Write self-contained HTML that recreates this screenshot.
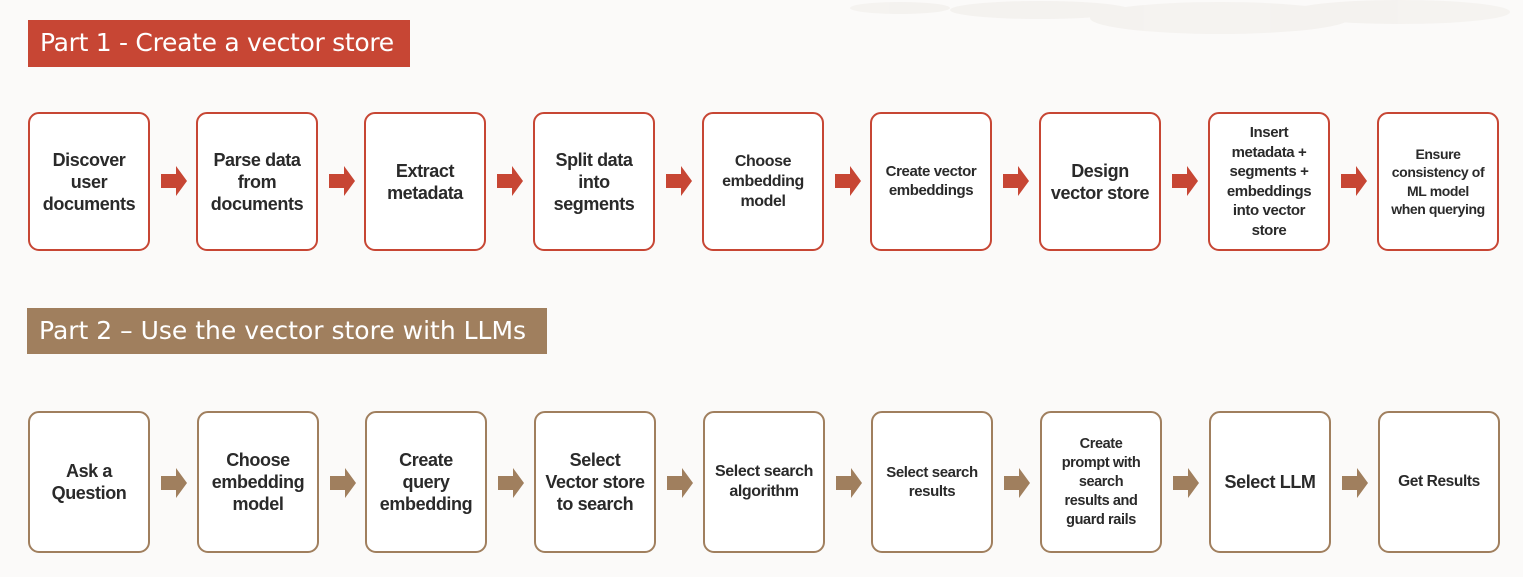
<!DOCTYPE html>
<html><head><meta charset="utf-8"><style>
html,body{margin:0;padding:0;}
body{width:1523px;height:577px;background:#fbfaf9;position:relative;overflow:hidden;font-family:"Liberation Sans",Arial,sans-serif;}
.t{position:absolute;color:#fff;font-family:"DejaVu Sans","Liberation Sans",sans-serif;font-size:25px;line-height:46px;padding-left:12px;box-sizing:border-box;letter-spacing:-0.3px}
.b{position:absolute;width:122px;box-sizing:border-box;border:2.5px solid;border-radius:11px;background:#fff;display:flex;align-items:center;justify-content:center;text-align:center;font-weight:bold;color:#2a2a2a;letter-spacing:-0.4px}
.r{border-color:#c74634;top:112px;height:139px;}
.w{border-color:#a07f5e;top:411px;height:142px;}
</style></head><body>
<svg style="position:absolute;left:840px;top:0" width="683" height="60"><g fill="#f2efec" opacity="0.7">
<ellipse cx="60" cy="8" rx="50" ry="6"/><ellipse cx="200" cy="10" rx="90" ry="9"/><ellipse cx="380" cy="18" rx="130" ry="16"/><ellipse cx="560" cy="12" rx="110" ry="12"/></g></svg>
<div class="t" style="left:28px;top:20px;width:382px;height:47px;background:#c74634">Part 1 - Create a vector store</div>
<div class="t" style="left:27px;top:308px;width:520px;height:46px;background:#a07f5e;letter-spacing:0">Part 2 – Use the vector store with LLMs</div>

<div class="b r" style="left:28px;font-size:18px;line-height:22px">Discover<br>user<br>documents</div>
<div class="b r" style="left:196px;font-size:18px;line-height:22px">Parse data<br>from<br>documents</div>
<div class="b r" style="left:364px;font-size:18px;line-height:22px">Extract<br>metadata</div>
<div class="b r" style="left:533px;font-size:18px;line-height:22px">Split data<br>into<br>segments</div>
<div class="b r" style="left:702px;font-size:16px;line-height:20px">Choose<br>embedding<br>model</div>
<div class="b r" style="left:870px;font-size:15px;line-height:19px;padding-bottom:2px">Create vector<br>embeddings</div>
<div class="b r" style="left:1039px;font-size:18px;line-height:22px">Design<br>vector store</div>
<div class="b r" style="left:1208px;font-size:15px;line-height:19.5px">Insert<br>metadata +<br>segments +<br>embeddings<br>into vector<br>store</div>
<div class="b r" style="left:1377px;font-size:14px;line-height:18.5px">Ensure<br>consistency of<br>ML model<br>when querying</div>

<div class="b w" style="left:28px;font-size:18px;line-height:22px">Ask a<br>Question</div>
<div class="b w" style="left:197px;font-size:18px;line-height:22px">Choose<br>embedding<br>model</div>
<div class="b w" style="left:365px;font-size:18px;line-height:22px">Create<br>query<br>embedding</div>
<div class="b w" style="left:534px;font-size:18px;line-height:22px">Select<br>Vector store<br>to search</div>
<div class="b w" style="left:703px;font-size:16px;line-height:20px">Select search<br>algorithm</div>
<div class="b w" style="left:871px;font-size:15px;line-height:19px">Select search<br>results</div>
<div class="b w" style="left:1040px;font-size:14.5px;line-height:19px">Create<br>prompt with<br>search<br>results and<br>guard rails</div>
<div class="b w" style="left:1209px;font-size:18px;line-height:22px">Select LLM</div>
<div class="b w" style="left:1378px;font-size:15.5px;line-height:20px">Get Results</div>

<svg style="position:absolute;left:0;top:0" width="1523" height="577">
<defs>
<path id="ar" d="M0,-7 H15 V-15 L26,0 L15,15 V7 H0 Z"/>
</defs>
<g fill="#c74634">
<use href="#ar" x="161" y="181"/><use href="#ar" x="329" y="181"/><use href="#ar" x="497" y="181"/><use href="#ar" x="666" y="181"/><use href="#ar" x="835" y="181"/><use href="#ar" x="1003" y="181"/><use href="#ar" x="1172" y="181"/><use href="#ar" x="1341" y="181"/>
</g>
<g fill="#a07f5e">
<use href="#ar" x="161" y="483"/><use href="#ar" x="330" y="483"/><use href="#ar" x="498" y="483"/><use href="#ar" x="667" y="483"/><use href="#ar" x="836" y="483"/><use href="#ar" x="1004" y="483"/><use href="#ar" x="1173" y="483"/><use href="#ar" x="1342" y="483"/>
</g>
</svg>
</body></html>
